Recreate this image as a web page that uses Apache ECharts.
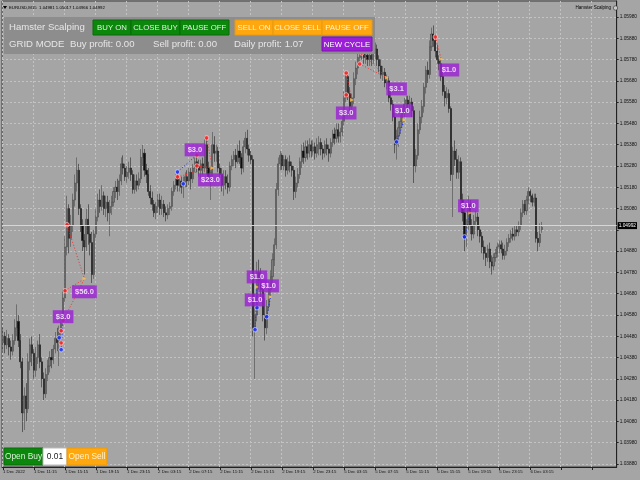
<!DOCTYPE html>
<html><head><meta charset="utf-8">
<script src="https://cdn.jsdelivr.net/npm/echarts@6/dist/echarts.min.js"></script>
<style>html,body{margin:0;padding:0;background:#a5a5a5}#c{width:640px;height:480px}</style>
</head><body><div id="c"></div>
<script>
const xTickLabels = ['1 Dec 2022','1 Dec 11:15','1 Dec 15:15','1 Dec 19:15','1 Dec 23:15','2 Dec 03:15','2 Dec 07:15','2 Dec 11:15','2 Dec 15:15','2 Dec 19:15','2 Dec 23:15','5 Dec 03:15','5 Dec 07:15','5 Dec 11:15','5 Dec 15:15','5 Dec 19:15','5 Dec 23:15','6 Dec 03:15'];
const barsPerLabel = 16;
const slotCount = 317;
const yTickValues = [1.0388,1.0398,1.0408,1.0418,1.0428,1.0438,1.0448,1.0458,1.0468,1.0478,1.0488,1.0498,1.0508,1.0518,1.0528,1.0538,1.0548,1.0558,1.0568,1.0578,1.0588,1.0598];
const yLabelValues = [1.0388,1.0398,1.0408,1.0418,1.0428,1.0438,1.0448,1.0458,1.0468,1.0478,1.0488,1.0508,1.0518,1.0528,1.0538,1.0548,1.0558,1.0568,1.0578,1.0588,1.0598];
const lastPrice = 1.04992;
const headerText = 'EURUSD,M15  1.04981 1.05017 1.04966 1.04992';

const opens = [
1.0445,1.0448,1.0444,1.0447,1.0443,1.0441,1.0446,1.0452,1.0455,1.0446,
1.0436,1.0412,1.0420,1.0414,1.0436,1.0444,1.0440,1.0432,1.0438,1.0444,
1.0436,1.0428,1.0421,1.0430,1.0434,1.0438,1.0437,1.0442,1.0447,1.0445,
1.0450,1.0456,1.0466,1.0490,1.0508,1.0494,1.0500,1.0512,1.0520,1.0526,
1.0508,1.0500,1.0493,1.0490,1.0503,1.0496,1.0492,1.0477,1.0496,1.0504,
1.0512,1.0509,1.0514,1.0508,1.0511,1.0506,1.0509,1.0511,1.0516,1.0518,
1.0516,1.0521,1.0529,1.0527,1.0523,1.0525,1.0527,1.0524,1.0517,1.0521,
1.0519,1.0522,1.0532,1.0534,1.0526,1.0524,1.0516,1.0513,1.0510,1.0506,
1.0509,1.0512,1.0508,1.0510,1.0506,1.0505,1.0508,1.0509,1.0516,1.0519,
1.0522,1.0519,1.0521,1.0518,1.0520,1.0523,1.0521,1.0525,1.0522,1.0527,
1.0530,1.0528,1.0526,1.0529,1.0527,1.0538,1.0527,1.0523,1.0525,1.0538,
1.0534,1.0535,1.0527,1.0524,1.0519,1.0523,1.0520,1.0518,1.0528,1.0531,
1.0533,1.0530,1.0535,1.0532,1.0527,1.0537,1.0541,1.0536,1.0533,1.0531,
1.0452,1.0458,1.0478,1.0474,1.0470,1.0458,1.0452,1.0462,1.0470,1.0476,
1.0484,1.0491,1.0517,1.0529,1.0533,1.0528,1.0531,1.0526,1.0530,1.0528,
1.0526,1.0516,1.0520,1.0524,1.0530,1.0535,1.0532,1.0537,1.0534,1.0538,
1.0535,1.0537,1.0534,1.0536,1.0539,1.0536,1.0534,1.0538,1.0536,1.0534,
1.0539,1.0543,1.0541,1.0545,1.0542,1.0544,1.0549,1.0560,1.0570,1.0562,
1.0556,1.0560,1.0569,1.0574,1.0579,1.0583,1.0581,1.0579,1.0580,1.0578,
1.0580,1.0578,1.0581,1.0583,1.0578,1.0575,1.0571,1.0572,1.0567,1.0568,
1.0560,1.0557,1.0551,1.0538,1.0542,1.0546,1.0549,1.0553,1.0557,1.0559,
1.0557,1.0558,1.0554,1.0528,1.0533,1.0545,1.0551,1.0556,1.0565,1.0573,
1.0571,1.0584,1.0590,1.0587,1.0582,1.0578,1.0576,1.0570,1.0563,1.0560,
1.0562,1.0555,1.0524,1.0535,1.0531,1.0525,1.0530,1.0512,1.0506,1.0494,
1.0500,1.0510,1.0500,1.0496,1.0502,1.0504,1.0498,1.0495,1.0490,1.0487,
1.0485,1.0489,1.0483,1.0481,1.0485,1.0487,1.0490,1.0491,1.0489,1.0486,
1.0488,1.0492,1.0494,1.0496,1.0495,1.0498,1.0497,1.0500,1.0506,1.0510,
1.0507,1.0512,1.0516,1.0514,1.0511,1.0513,1.0494,1.0492,1.04981];
const closes = [
1.0448,1.0444,1.0447,1.0443,1.0441,1.0446,1.0452,1.0455,1.0446,1.0436,
1.0412,1.0420,1.0414,1.0436,1.0444,1.0440,1.0432,1.0438,1.0444,1.0436,
1.0428,1.0421,1.0430,1.0434,1.0438,1.0437,1.0442,1.0447,1.0445,1.0450,
1.0456,1.0466,1.0490,1.0508,1.0494,1.0500,1.0512,1.0520,1.0526,1.0508,
1.0500,1.0493,1.0490,1.0503,1.0496,1.0492,1.0477,1.0496,1.0504,1.0512,
1.0509,1.0514,1.0508,1.0511,1.0506,1.0509,1.0511,1.0516,1.0518,1.0516,
1.0521,1.0529,1.0527,1.0523,1.0525,1.0527,1.0524,1.0517,1.0521,1.0519,
1.0522,1.0532,1.0534,1.0526,1.0524,1.0516,1.0513,1.0510,1.0506,1.0509,
1.0512,1.0508,1.0510,1.0506,1.0505,1.0508,1.0509,1.0516,1.0519,1.0522,
1.0519,1.0521,1.0518,1.0520,1.0523,1.0521,1.0525,1.0522,1.0527,1.0530,
1.0528,1.0526,1.0529,1.0527,1.0538,1.0527,1.0523,1.0525,1.0538,1.0534,
1.0535,1.0527,1.0524,1.0519,1.0523,1.0520,1.0518,1.0528,1.0531,1.0533,
1.0530,1.0535,1.0532,1.0527,1.0537,1.0541,1.0536,1.0533,1.0531,1.0452,
1.0458,1.0478,1.0474,1.0470,1.0458,1.0452,1.0462,1.0470,1.0476,1.0484,
1.0491,1.0517,1.0529,1.0533,1.0528,1.0531,1.0526,1.0530,1.0528,1.0526,
1.0516,1.0520,1.0524,1.0530,1.0535,1.0532,1.0537,1.0534,1.0538,1.0535,
1.0537,1.0534,1.0538,1.0539,1.0536,1.0534,1.0538,1.0536,1.0534,1.0539,
1.0543,1.0541,1.0545,1.0542,1.0544,1.0549,1.0560,1.0570,1.0562,1.0556,
1.0560,1.0569,1.0574,1.0579,1.0583,1.0581,1.0579,1.0580,1.0578,1.0580,
1.0578,1.0581,1.0583,1.0578,1.0575,1.0571,1.0572,1.0567,1.0568,1.0560,
1.0557,1.0551,1.0538,1.0542,1.0546,1.0549,1.0553,1.0557,1.0559,1.0557,
1.0558,1.0554,1.0528,1.0533,1.0545,1.0551,1.0556,1.0565,1.0573,1.0571,
1.0584,1.0590,1.0587,1.0582,1.0578,1.0576,1.0570,1.0563,1.0560,1.0562,
1.0555,1.0524,1.0535,1.0531,1.0525,1.0530,1.0512,1.0506,1.0494,1.0500,
1.0510,1.0500,1.0496,1.0502,1.0504,1.0498,1.0495,1.0490,1.0487,1.0485,
1.0489,1.0483,1.0481,1.0485,1.0487,1.0490,1.0491,1.0489,1.0486,1.0488,
1.0492,1.0494,1.0496,1.0495,1.0498,1.0497,1.0500,1.0506,1.0510,1.0507,
1.0512,1.0516,1.0514,1.0511,1.0513,1.0494,1.0492,1.0496,1.04992];
const lows = [
1.0441,1.0440,1.0442,1.0439,1.0437,1.0439,1.0444,1.0448,1.0443,1.0433,
1.0403,1.0404,1.0408,1.0412,1.0432,1.0434,1.0428,1.0429,1.0435,1.0433,
1.0424,1.0418,1.0419,1.0427,1.0431,1.0433,1.0435,1.0440,1.0441,1.0434,
1.0446,1.0453,1.0464,1.0486,1.0487,1.0490,1.0497,1.0509,1.0516,1.0505,
1.0497,1.0488,1.0477,1.0488,1.0491,1.0486,1.0473,1.0475,1.0494,1.0502,
1.0506,1.0507,1.0505,1.0504,1.0502,1.0495,1.0505,1.0509,1.0513,1.0512,
1.0514,1.0519,1.0524,1.0521,1.0520,1.0522,1.0521,1.0515,1.0515,1.0516,
1.0517,1.0520,1.0528,1.0523,1.0520,1.0514,1.0510,1.0507,1.0504,1.0503,
1.0506,1.0505,1.0505,1.0504,1.0502,1.0503,1.0505,1.0507,1.0514,1.0517,
1.0516,1.0516,1.0515,1.0513,1.0518,1.0518,1.0519,1.0517,1.0520,1.0525,
1.0525,1.0523,1.0522,1.0524,1.0525,1.0524,1.0521,1.0512,1.0523,1.0530,
1.0530,1.0525,1.0521,1.0516,1.0514,1.0517,1.0515,1.0516,1.0526,1.0528,
1.0527,1.0529,1.0529,1.0524,1.0525,1.0534,1.0533,1.0530,1.0529,1.0448,
1.0428,1.0455,1.0470,1.0466,1.0455,1.0446,1.0449,1.0460,1.0467,1.0473,
1.0481,1.0489,1.0514,1.0526,1.0526,1.0526,1.0523,1.0524,1.0525,1.0523,
1.0512,1.0513,1.0518,1.0522,1.0527,1.0529,1.0530,1.0531,1.0532,1.0532,
1.0533,1.0531,1.0532,1.0533,1.0533,1.0531,1.0532,1.0533,1.0530,1.0532,
1.0537,1.0538,1.0539,1.0539,1.0539,1.0542,1.0547,1.0558,1.0559,1.0553,
1.0553,1.0557,1.0566,1.0571,1.0577,1.0578,1.0576,1.0576,1.0575,1.0575,
1.0575,1.0576,1.0578,1.0575,1.0572,1.0569,1.0568,1.0565,1.0564,1.0558,
1.0554,1.0549,1.0534,1.0531,1.0537,1.0543,1.0547,1.0551,1.0555,1.0555,
1.0554,1.0551,1.0520,1.0525,1.0531,1.0543,1.0548,1.0553,1.0562,1.0567,
1.0569,1.0582,1.0584,1.0579,1.0576,1.0573,1.0568,1.0561,1.0556,1.0557,
1.0553,1.0521,1.0504,1.0528,1.0522,1.0522,1.0510,1.0502,1.0488,1.0490,
1.0498,1.0496,1.0493,1.0494,1.0500,1.0495,1.0492,1.0487,1.0484,1.0481,
1.0483,1.0480,1.0477,1.0479,1.0483,1.0485,1.0487,1.0487,1.0484,1.0484,
1.0486,1.0490,1.0492,1.0493,1.0493,1.0495,1.0495,1.0498,1.0504,1.0505,
1.0505,1.0510,1.0511,1.0509,1.0509,1.0492,1.0488,1.0490,1.04966];
const highs = [
1.0452,1.0450,1.0451,1.0449,1.0446,1.0449,1.0456,1.0463,1.0458,1.0449,
1.0438,1.0424,1.0426,1.0440,1.0447,1.0448,1.0442,1.0443,1.0446,1.0449,
1.0438,1.0431,1.0433,1.0437,1.0441,1.0442,1.0444,1.0450,1.0452,1.0453,
1.0458,1.0470,1.0495,1.0514,1.0510,1.0505,1.0515,1.0524,1.0532,1.0529,
1.0510,1.0503,1.0496,1.0508,1.0510,1.0500,1.0497,1.0498,1.0508,1.0515,
1.0517,1.0519,1.0516,1.0514,1.0514,1.0512,1.0514,1.0518,1.0521,1.0522,
1.0524,1.0532,1.0533,1.0529,1.0528,1.0530,1.0532,1.0526,1.0524,1.0524,
1.0525,1.0536,1.0538,1.0536,1.0529,1.0527,1.0519,1.0516,1.0512,1.0511,
1.0515,1.0515,1.0514,1.0512,1.0509,1.0510,1.0511,1.0518,1.0521,1.0524,
1.0525,1.0523,1.0523,1.0523,1.0525,1.0526,1.0527,1.0527,1.0529,1.0532,
1.0534,1.0531,1.0531,1.0532,1.0542,1.0541,1.0530,1.0528,1.0544,1.0542,
1.0538,1.0537,1.0529,1.0527,1.0526,1.0526,1.0524,1.0530,1.0533,1.0535,
1.0536,1.0538,1.0540,1.0534,1.0540,1.0544,1.0545,1.0538,1.0535,1.0533,
1.0468,1.0483,1.0484,1.0480,1.0472,1.0466,1.0465,1.0474,1.0479,1.0487,
1.0494,1.0520,1.0532,1.0535,1.0534,1.0533,1.0533,1.0532,1.0533,1.0530,
1.0528,1.0523,1.0527,1.0532,1.0538,1.0539,1.0540,1.0540,1.0541,1.0540,
1.0540,1.0539,1.0541,1.0542,1.0541,1.0538,1.0540,1.0541,1.0538,1.0541,
1.0545,1.0546,1.0548,1.0548,1.0546,1.0551,1.0563,1.0572,1.0572,1.0565,
1.0562,1.0572,1.0577,1.0582,1.0586,1.0585,1.0583,1.0583,1.0582,1.0583,
1.0582,1.0583,1.0586,1.0585,1.0580,1.0578,1.0575,1.0574,1.0571,1.0570,
1.0563,1.0559,1.0553,1.0545,1.0549,1.0552,1.0555,1.0560,1.0561,1.0561,
1.0561,1.0560,1.0556,1.0536,1.0548,1.0554,1.0559,1.0567,1.0575,1.0577,
1.0587,1.0593,1.0594,1.0590,1.0585,1.0580,1.0579,1.0572,1.0566,1.0565,
1.0564,1.0556,1.0537,1.0540,1.0536,1.0533,1.0532,1.0515,1.0508,1.0503,
1.0514,1.0512,1.0503,1.0505,1.0507,1.0506,1.0500,1.0497,1.0493,1.0490,
1.0491,1.0492,1.0486,1.0487,1.0489,1.0492,1.0493,1.0493,1.0492,1.0491,
1.0494,1.0496,1.0498,1.0499,1.0500,1.0500,1.0502,1.0508,1.0512,1.0512,
1.0514,1.0518,1.0517,1.0515,1.0515,1.0515,1.0497,1.0501,1.05017];

// trade annotations (bar index, price)
const profitTexts  = ['$3.0','$56.0','$3.0','$23.0','$1.0','$1.0','$1.0','$3.0','$3.1','$1.0','$1.0','$1.0'];
const profitBars   = [31,42,99,107,131,137,130,177,203,206,230,240];
const profitPrices = [1.04572,1.04689,1.05356,1.05215,1.04759,1.04717,1.04651,1.05529,1.05642,1.05539,1.05731,1.05093];
const sellBars   = [33,32,31,30,30,90,100,100,105,177,177,185,184,223];
const sellPrices = [1.05004,1.04694,1.04553,1.04506,1.04449,1.05229,1.05280,1.05332,1.05412,1.05717,1.05614,1.05811,1.05759,1.05886];
const buyBars    = [29,30,90,93,130,131,136,203,238];
const buyPrices  = [1.04473,1.04417,1.05252,1.05196,1.04511,1.04614,1.04572,1.05393,1.04947];
const exitBars   = [42,108,131,138,180,198,207,226,241];
const exitPrices = [1.04750,1.05271,1.04712,1.04665,1.05590,1.05694,1.05496,1.05783,1.05060];
const sellLinks = [[33,1.05004,42,1.04750],[32,1.04694,42,1.04750],[31,1.04553,42,1.04750],[90,1.05229,108,1.05271],[100,1.05280,108,1.05271],[105,1.05412,108,1.05271],[177,1.05717,180,1.05590],[177,1.05614,180,1.05590],[185,1.05811,198,1.05694],[184,1.05759,198,1.05694],[223,1.05886,226,1.05783]];
const buyLinks = [[30,1.04417,31,1.04553],[90,1.05252,100,1.05332],[130,1.04511,131,1.04712],[136,1.04572,138,1.04665],[203,1.05393,207,1.05496],[238,1.04947,241,1.05060]];

const xCats = [];
for (let i = 0; i < slotCount; i++) {
  const k = i / barsPerLabel;
  xCats.push(Number.isInteger(k) && k < xTickLabels.length ? xTickLabels[k] : '');
}
const candles = opens.map((o, i) => [o, closes[i], lows[i], highs[i]]);
const tickEvery = (idx) => idx % barsPerLabel === 0;
const F = '"Liberation Sans", Arial, sans-serif';

function button(x, y, w, h, fill, stroke, text, color, fs) {
  return [
    {type:'rect', shape:{x:x, y:y, width:w, height:h}, style:{fill:fill, stroke:stroke, lineWidth:1}, z:100},
    {type:'text', x:x + w/2, y:y + h/2 + 0.5, style:{text:text, fill:color, font: fs + 'px ' + F, align:'center', verticalAlign:'middle'}, z:101}
  ];
}
function label(x, y, text, fs, color) {
  return {type:'text', x:x, y:y, style:{text:text, fill:color, font: fs + 'px ' + F, align:'left', verticalAlign:'middle'}, z:101};
}

const graphics = [
  {type:'polygon', shape:{points:[[3,6],[7,6],[5,9]]}, style:{fill:'#000'}, z:100},
  label(9, 7.5, headerText, 4.3, '#000'),
  {type:'text', x:611, y:8, style:{text:'Hamster Scalping', fill:'#000', font:'4.5px ' + F, align:'right', verticalAlign:'middle'}, z:100},
  {type:'circle', shape:{cx:615.5, cy:8, r:2.2}, style:{fill:'#c8c8c8', stroke:'#333', lineWidth:0.6}, z:100},
  {type:'rect', shape:{x:4, y:17, width:371, height:37}, style:{fill:'#8d8d8d'}, z:99},
  label(9, 27.5, 'Hamster Scalping', 9.6, '#e6e6e6'),
  label(9, 44.5, 'GRID MODE', 9.6, '#e6e6e6'),
  label(70, 44.5, 'Buy profit: 0.00', 9.6, '#e6e6e6'),
  label(153, 44.5, 'Sell profit: 0.00', 9.6, '#e6e6e6'),
  label(234, 44.5, 'Daily profit: 1.07', 9.6, '#e6e6e6'),
  ...button(93, 20, 38, 15, '#0b870b', '#0a6a0a', 'BUY ON', '#e2f2e2', 7.8),
  ...button(131, 20, 49, 15, '#0b870b', '#0a6a0a', 'CLOSE BUY', '#e2f2e2', 7.8),
  ...button(180, 20, 49, 15, '#0b870b', '#0a6a0a', 'PAUSE OFF', '#e2f2e2', 7.8),
  ...button(235, 20, 38, 15, '#ffa70f', '#e89a10', 'SELL ON', '#fff3cf', 7.8),
  ...button(273, 20, 49, 15, '#ffa70f', '#e89a10', 'CLOSE SELL', '#fff3cf', 7.6),
  ...button(322, 20, 50, 15, '#ffa70f', '#e89a10', 'PAUSE OFF', '#fff3cf', 7.8),
  ...button(322, 37, 50, 14, '#9b1fd6', '#7d10b0', 'NEW CYCLE', '#ffffff', 7.8),
  ...button(4, 448, 39, 17, '#0b870b', '#0a6a0a', 'Open Buy', '#d8f0d8', 8.4),
  ...button(43, 448, 24, 17, '#ffffff', '#bbbbbb', '0.01', '#222222', 8.4),
  ...button(67, 448, 40, 17, '#ffa70f', '#e89a10', 'Open Sell', '#fff3cf', 8.4)
];

const chart = echarts.init(document.getElementById('c'), null, {renderer:'canvas'});
chart.setOption({
  animation: false,
  backgroundColor: '#a5a5a5',
  grid: {left:2, right:20, top:1, bottom:13, show:true, borderColor:'#3c3c3c', borderWidth:1, backgroundColor:'#a5a5a5'},
  xAxis: {
    type:'category', data:xCats, boundaryGap:true,
    axisLine:{show:true, lineStyle:{color:'#222', width:1}},
    axisTick:{show:true, alignWithLabel:true, interval:tickEvery, length:3, lineStyle:{color:'#222'}},
    axisLabel:{show:true, interval:0, align:'left', margin:3, fontSize:4.3, fontFamily:F, color:'#111'},
    splitLine:{show:true, interval:tickEvery, lineStyle:{color:'#c3c3c3', type:[2,2], width:1}}
  },
  yAxis: {
    type:'value', position:'right', min:1.03866, max:1.06055, scale:true,
    axisLine:{show:true, onZero:false, lineStyle:{color:'#222', width:1}},
    axisTick:{show:true, length:2, customValues:yTickValues, lineStyle:{color:'#222'}},
    axisLabel:{show:true, customValues:yLabelValues, margin:3, fontSize:4.8, fontFamily:F, color:'#111', formatter:(v)=>v.toFixed(5)},
    splitLine:{show:true, lineStyle:{color:'#c3c3c3', type:[2,2], width:1}}
  },
  series: [
    {
      type:'candlestick', data:candles, barWidth:1.6,
      itemStyle:{color:'#7a7a7a', color0:'#0e0e0e', borderColor:'#383838', borderColor0:'#0e0e0e', borderWidth:0.5},
      markLine:{
        silent:true, symbol:['none','none'], animation:false,
        lineStyle:{color:'#d6d6d6', type:'solid', width:1},
        label:{show:true, position:'end', formatter:()=>lastPrice.toFixed(5), backgroundColor:'#000', color:'#fff', fontSize:4.8, fontFamily:F, padding:[1,1,1,1], distance:1},
        data:[{yAxis:lastPrice}]
      }
    },
    {
      type:'lines', coordinateSystem:'cartesian2d', silent:true, z:3,
      lineStyle:{color:'#ff2a2a', width:1, type:[1,2], opacity:1},
      data: sellLinks.map(l => ({coords:[[l[0], l[1]], [l[2], l[3]]]}))
    },
    {
      type:'lines', coordinateSystem:'cartesian2d', silent:true, z:3,
      lineStyle:{color:'#1a2cff', width:1, type:[1,2], opacity:1},
      data: buyLinks.map(l => ({coords:[[l[0], l[1]], [l[2], l[3]]]}))
    },
    {
      type:'scatter', silent:true, z:4, symbol:'circle', symbolSize:4.5,
      itemStyle:{color:'#ff2020', borderColor:'#ffe0e0', borderWidth:0.8},
      data: sellBars.map((b, i) => [b, sellPrices[i]])
    },
    {
      type:'scatter', silent:true, z:4, symbol:'circle', symbolSize:4.5,
      itemStyle:{color:'#1a2cff', borderColor:'#e0e6ff', borderWidth:0.8},
      data: buyBars.map((b, i) => [b, buyPrices[i]])
    },
    {
      type:'scatter', silent:true, z:4, symbol:'triangle', symbolSize:4, symbolRotate:-90,
      itemStyle:{color:'#ffc34d'},
      data: exitBars.map((b, i) => [b, exitPrices[i]])
    },
    {
      type:'scatter', silent:true, z:6, symbol:'circle', symbolSize:1,
      itemStyle:{color:'rgba(0,0,0,0)'},
      label:{show:true, position:'inside', formatter:(p)=>profitTexts[p.dataIndex], backgroundColor:'#9b1fd6', color:'#ffffff', fontWeight:'bold', fontSize:7.5, fontFamily:F, padding:[3,3,2,3]},
      labelLayout:{hideOverlap:false},
      data: profitBars.map((b, i) => [b, profitPrices[i]])
    }
  ],
  graphic: graphics
});
</script>
</body></html>
